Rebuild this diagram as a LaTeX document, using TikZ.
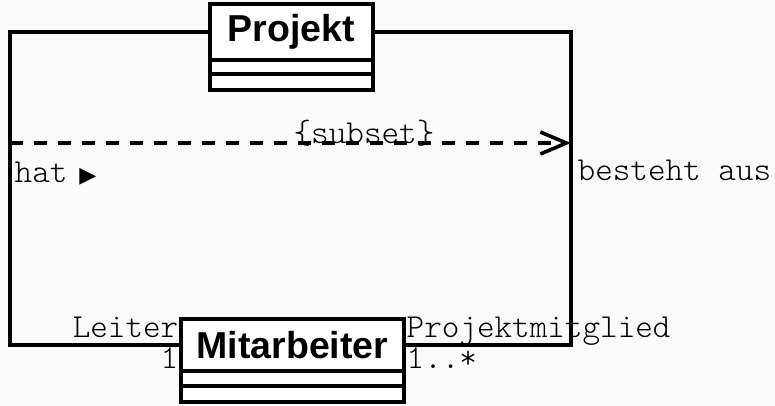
\documentclass[tikz,border=0pt]{standalone}
\usepackage{fontspec}
\setmainfont{Liberation Sans}
\setmonofont{Latin Modern Mono Light}
\newfontfamily\symbolfont{DejaVu Sans}
\usetikzlibrary{arrows.meta}
\definecolor{paper}{RGB}{250,250,250}
\begin{document}
\begin{tikzpicture}[x=1pt,y=-1pt,line width=3.4pt,
  classname/.style={draw,fill=white,minimum width=#1,inner sep=0pt,outer sep=0pt,
    font=\fontsize{37.5}{42}\selectfont\bfseries},
  compartment/.style={draw,fill=white,minimum width=#1,inner sep=0pt,outer sep=0pt,anchor=north},
  rolelabel/.style={inner sep=0pt,font=\fontsize{33.5}{38}\selectfont\ttfamily},
  assoc/.style={line join=miter},
  subsetline/.style={dash pattern=on 13pt off 11pt,-{Straight Barb[length=26pt,width=22pt,line width=3.6pt]}}
]
\fill[paper] (0,0) rectangle (775,405);
\useasboundingbox (0,0) rectangle (775,405);

% class Projekt
\node[classname=163pt,minimum height=56pt] (pname) at (291.5,32) {Projekt};
\node[compartment=163pt,minimum height=14pt] (pattr) at (pname.south) {};
\node[compartment=163pt,minimum height=16pt] (pops) at (pattr.south) {};

% class Mitarbeiter
\node[classname=223pt,minimum height=52pt] (mname) at (292.5,345) {Mitarbeiter};
\node[compartment=223pt,minimum height=15pt] (mattr) at (mname.south) {};
\node[compartment=223pt,minimum height=16pt] (mops) at (mattr.south) {};

% association corners and ends of the subset constraint
\coordinate (lcorner) at (10,200);
\coordinate (rcorner) at (571,200);
\coordinate (sstart) at (10,143);
\coordinate (send) at (571,143);

% the two associations
\draw[assoc] (pname.west) -| (lcorner) |- (mname.west);
\draw[assoc] (pname.east) -| (rcorner) |- (mname.east);

% subset constraint
\draw[subsetline] (sstart) -- (send);
\node[rolelabel,anchor=base] (subset) at (364,143) {\{subset\}};

% association names
\node[rolelabel,anchor=base west] (hat) at (13,182)
  {hat\hspace{12pt}{\symbolfont\fontsize{22}{24}\selectfont ▶}};
\node[rolelabel,anchor=base west] (besteht) at (576,180) {besteht aus};

% role names and multiplicities
\node[rolelabel,anchor=base east] (leiter) at (180,337) {Leiter};
\node[rolelabel,anchor=base east] (leitermult) at (180,368) {1};
\node[rolelabel,anchor=base west] (mitglied) at (405,337) {Projektmitglied};
\node[rolelabel,anchor=base west] (mitgliedmult) at (405,368) {1..*};
\end{tikzpicture}
\end{document}
